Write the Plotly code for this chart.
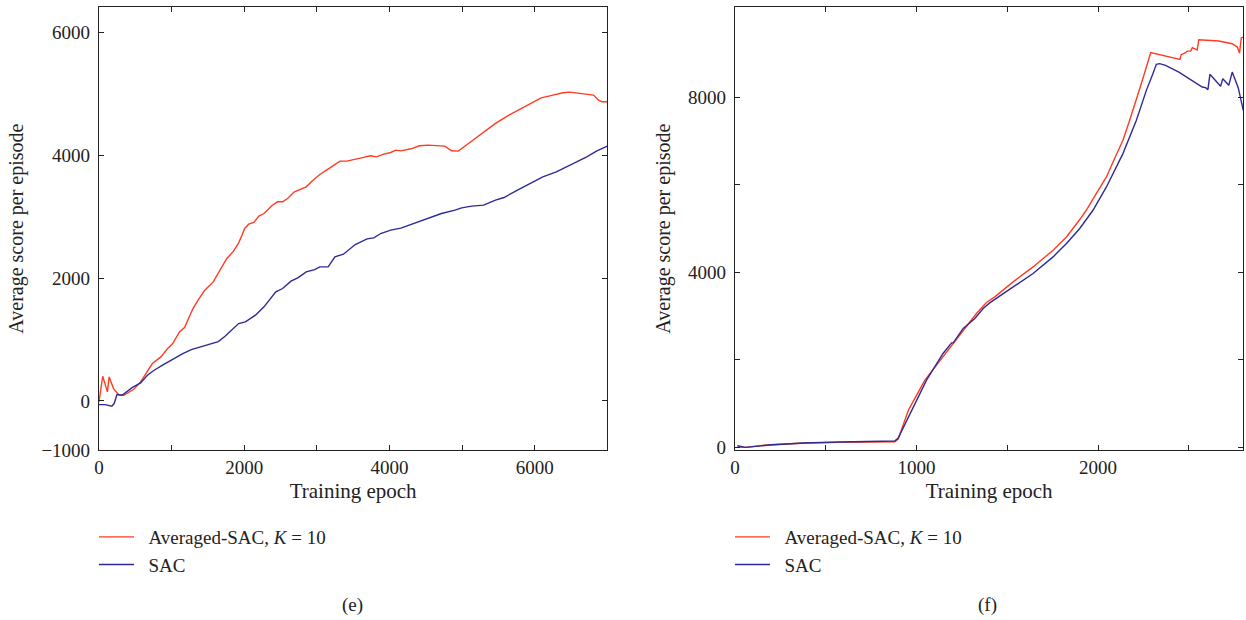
import plotly.graph_objects as go

# ---- Panel (e) data ----
e_avg_x = [0, 51, 116, 140, 200, 270, 340, 480, 573, 735, 852, 945, 1015, 1108, 1178, 1224, 1294, 1364, 1457, 1573,
           1667, 1760, 1853, 1923, 1969, 2006, 2062, 2132, 2202, 2272, 2388, 2458, 2528, 2597, 2691, 2784, 2854, 2924,
           3041, 3133, 3226, 3319, 3412, 3552, 3645, 3738, 3822, 3924, 4017, 4087, 4157, 4297, 4413, 4529, 4646, 4762,
           4855, 4948, 5088, 5274, 5460, 5646, 5833, 5972, 6089, 6252, 6391, 6484, 6601, 6717, 6810, 6880, 6927, 7000]
e_avg_y = [-16, 402, 147, 391, 201, 103, 92, 190, 310, 609, 717, 853, 935, 1125, 1196, 1315, 1505, 1641, 1804, 1940,
           2141, 2321, 2440, 2576, 2701, 2810, 2880, 2908, 3011, 3054, 3190, 3245, 3245, 3299, 3408, 3462, 3489, 3571,
           3690, 3761, 3832, 3908, 3908, 3951, 3968, 3995, 3978, 4022, 4049, 4087, 4076, 4109, 4158, 4169, 4163, 4152,
           4076, 4071, 4196, 4359, 4522, 4658, 4783, 4875, 4940, 4984, 5022, 5033, 5011, 4995, 4984, 4902, 4875, 4875]
e_sac_x = [0, 84, 177, 209, 247, 317, 456, 573, 666, 759, 875, 1038, 1154, 1271, 1457, 1643, 1736, 1829, 1923, 2016,
           2155, 2272, 2365, 2435, 2528, 2644, 2737, 2854, 2970, 3040, 3156, 3249, 3366, 3529, 3692, 3785, 3878, 4017,
           4157, 4343, 4529, 4716, 4902, 4995, 5134, 5297, 5460, 5577, 5763, 5926, 6112, 6298, 6531, 6717, 6857, 7000]
e_sac_y = [-60, -60, -87, -43, 103, 92, 217, 293, 418, 500, 582, 701, 772, 837, 897, 967, 1054, 1152, 1261, 1288,
           1397, 1533, 1669, 1777, 1832, 1951, 2005, 2103, 2141, 2185, 2185, 2348, 2391, 2549, 2641, 2658, 2728, 2783,
           2815, 2891, 2973, 3054, 3109, 3147, 3174, 3190, 3272, 3315, 3435, 3533, 3652, 3734, 3870, 3978, 4076, 4152]

# ---- Panel (f) data ----
f_avg_x = [13, 57, 191, 382, 574, 765, 880, 899, 956, 1046, 1165, 1257, 1330, 1385, 1431, 1532, 1642, 1752, 1826,
           1899, 1935, 1990, 2046, 2091, 2137, 2174, 2211, 2238, 2266, 2290, 2451, 2458, 2482, 2491, 2510, 2519,
           2546, 2555, 2665, 2739, 2767, 2779, 2789, 2800]
f_avg_y = [10, 0, 61, 99, 114, 121, 129, 190, 858, 1536, 2182, 2677, 3058, 3309, 3437, 3779, 4121, 4502, 4806,
           5203, 5415, 5796, 6175, 6595, 7013, 7469, 7926, 8306, 8685, 9014, 8861, 8968, 9014, 9050, 9050, 9128,
           9077, 9310, 9279, 9219, 9142, 9005, 9356, 9370]
f_sac_x = [13, 38, 57, 191, 382, 574, 880, 899, 975, 1055, 1146, 1193, 1202, 1257, 1321, 1367, 1403, 1532, 1642,
           1752, 1826, 1899, 1972, 2046, 2137, 2211, 2266, 2302, 2321, 2339, 2372, 2445, 2519, 2574, 2592, 2605,
           2616, 2675, 2687, 2720, 2739, 2772, 2800]
f_sac_y = [38, 23, 0, 53, 99, 121, 144, 212, 873, 1536, 2145, 2387, 2387, 2716, 2944, 3172, 3300, 3665, 3971,
           4350, 4655, 4998, 5415, 5947, 6709, 7469, 8153, 8535, 8747, 8763, 8724, 8571, 8382, 8229, 8215, 8170,
           8519, 8245, 8420, 8268, 8571, 8215, 7697]

# ---- Tick labels ----
e_xtickvals = [0, 1000, 2000, 3000, 4000, 5000, 6000, 7000]
e_xticktext = ["0", "", "2000", "", "4000", "", "6000", ""]
e_ytickvals = [-800, 0, 2000, 4000, 6000]
e_yticktext = ["\u22121000", "0", "2000", "4000", "6000"]
f_xtickvals = [0, 500, 1000, 1500, 2000, 2500]
f_xticktext = ["0", "", "1000", "", "2000", ""]
f_ytickvals = [0, 2000, 4000, 6000, 8000]
f_yticktext = ["0", "", "4000", "", "8000"]

RED = "#FF3B21"
BLUE = "#2E2A96"
FONT = "Liberation Serif"
PAD = "\u00a0\u00a0"
AVG_NAME = PAD + "Averaged-SAC, <i>K</i> = 10"
SAC_NAME = PAD + "SAC"

fig = go.Figure()
fig.add_trace(go.Scatter(x=e_avg_x, y=e_avg_y, mode="lines", name=AVG_NAME, line=dict(color=RED, width=1.4),
                         xaxis="x", yaxis="y", legend="legend"))
fig.add_trace(go.Scatter(x=e_sac_x, y=e_sac_y, mode="lines", name=SAC_NAME, line=dict(color=BLUE, width=1.4),
                         xaxis="x", yaxis="y", legend="legend"))
fig.add_trace(go.Scatter(x=f_avg_x, y=f_avg_y, mode="lines", name=AVG_NAME, line=dict(color=RED, width=1.4),
                         xaxis="x2", yaxis="y2", legend="legend2"))
fig.add_trace(go.Scatter(x=f_sac_x, y=f_sac_y, mode="lines", name=SAC_NAME, line=dict(color=BLUE, width=1.4),
                         xaxis="x2", yaxis="y2", legend="legend2"))

W, H = 1246, 620
ydom = [1 - 450 / H, 1 - 7.3 / H]

axis_common = dict(showgrid=False, zeroline=False, showline=True, linecolor="#222", linewidth=1.2,
                   mirror="ticks", ticks="inside", ticklen=5, tickcolor="#222", automargin=False,
                   tickfont=dict(family=FONT, size=19, color="#222"))

fig.update_layout(
    template="none",
    width=W, height=H,
    margin=dict(l=0, r=0, t=0, b=0, autoexpand=False),
    paper_bgcolor="white", plot_bgcolor="white",
    font=dict(family=FONT, size=19, color="#222"),
    xaxis=dict(domain=[99 / W, 607.3 / W], range=[0, 7000], tickmode="array",
               tickvals=e_xtickvals, ticktext=e_xticktext, anchor="y",
               title=dict(text="Training epoch", font=dict(family=FONT, size=21), standoff=6), **axis_common),
    yaxis=dict(domain=ydom, range=[-800, 6415], tickmode="array",
               tickvals=e_ytickvals, ticktext=e_yticktext, anchor="x", ticklabelstandoff=4,
               title=dict(text="Average score per episode", font=dict(family=FONT, size=20), standoff=12), **axis_common),
    xaxis2=dict(domain=[735 / W, 1243.3 / W], range=[0, 2800], tickmode="array",
                tickvals=f_xtickvals, ticktext=f_xticktext, anchor="y2",
                title=dict(text="Training epoch", font=dict(family=FONT, size=21), standoff=6), **axis_common),
    yaxis2=dict(domain=ydom, range=[-60, 10050], tickmode="array",
                tickvals=f_ytickvals, ticktext=f_yticktext, anchor="x2", ticklabelstandoff=4,
                title=dict(text="Average score per episode", font=dict(family=FONT, size=20), standoff=12), **axis_common),
    legend=dict(x=94 / W, y=1 - 518 / H, xanchor="left", yanchor="top", bgcolor="rgba(0,0,0,0)",
                font=dict(family=FONT, size=19, color="#222"), tracegroupgap=0, itemwidth=35),
    legend2=dict(x=730 / W, y=1 - 518 / H, xanchor="left", yanchor="top", bgcolor="rgba(0,0,0,0)",
                 font=dict(family=FONT, size=19, color="#222"), tracegroupgap=0, itemwidth=35),
    showlegend=True,
    annotations=[
        dict(text="(e)", x=352 / W, y=1 - 605 / H, xref="paper", yref="paper", showarrow=False,
             xanchor="center", yanchor="middle", font=dict(family=FONT, size=19, color="#222")),
        dict(text="(f)", x=987 / W, y=1 - 605 / H, xref="paper", yref="paper", showarrow=False,
             xanchor="center", yanchor="middle", font=dict(family=FONT, size=19, color="#222")),
    ],
)

fig.write_html("out.html")
